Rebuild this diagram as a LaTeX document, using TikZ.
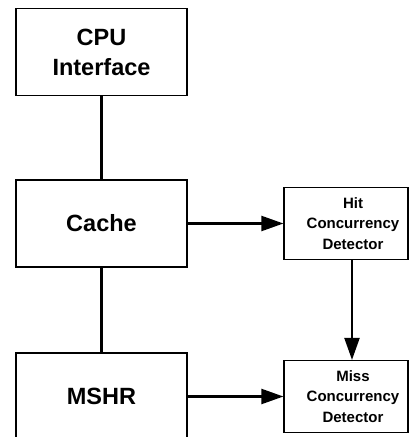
\documentclass[tikz,border=0pt]{standalone}
\usepackage{fontspec}
\setmainfont{Liberation Sans}
\usetikzlibrary{arrows.meta}
\usetikzlibrary{positioning}
\tikzset{>={Triangle[length=22pt,width=15pt]}}
\tikzset{
    unit/.style = {draw, line width=1.2pt, minimum width=171pt, minimum height=87pt, align=center, font=\fontsize{23.5}{30}\selectfont\bfseries},
    detector/.style = {draw, line width=1.2pt, minimum width=124pt, minimum height=72pt},
    dettext/.style = {align=center, xshift=7pt, font=\fontsize{15}{20.5}\selectfont\bfseries},
    link/.style = {line width=2.2pt},
    flow/.style = {link, ->},
}

\begin{document}
\begin{tikzpicture}[node distance=172pt and 244.5pt, on grid]
    \useasboundingbox (0,0) rectangle (409pt,-437pt);
    \clip (0,0) rectangle (409pt,-437pt);
    \node[unit] (cpu) at (101.5pt,-52pt) {CPU\\Interface};
    \node[unit] (cache) [below=171.5pt of cpu] {Cache};
    \node[unit] (mshr) [below=173pt of cache] {MSHR};
    \node[detector, label={[dettext]center:Hit\\Concurrency\\Detector}] (hit) [right=of cache] {};
    \node[detector, label={[dettext]center:Miss\\Concurrency\\Detector}] (miss) [below=173pt of hit] {};
    \draw[link] (cpu) -- (cache);
    \draw[link] (cache) -- (mshr);
    \draw[flow] (cache) -- (hit);
    \draw[flow] (mshr) -- (miss);
    \draw[flow] ([xshift=6pt]hit.south) -- ([xshift=6pt]miss.north);
\end{tikzpicture}
\end{document}
